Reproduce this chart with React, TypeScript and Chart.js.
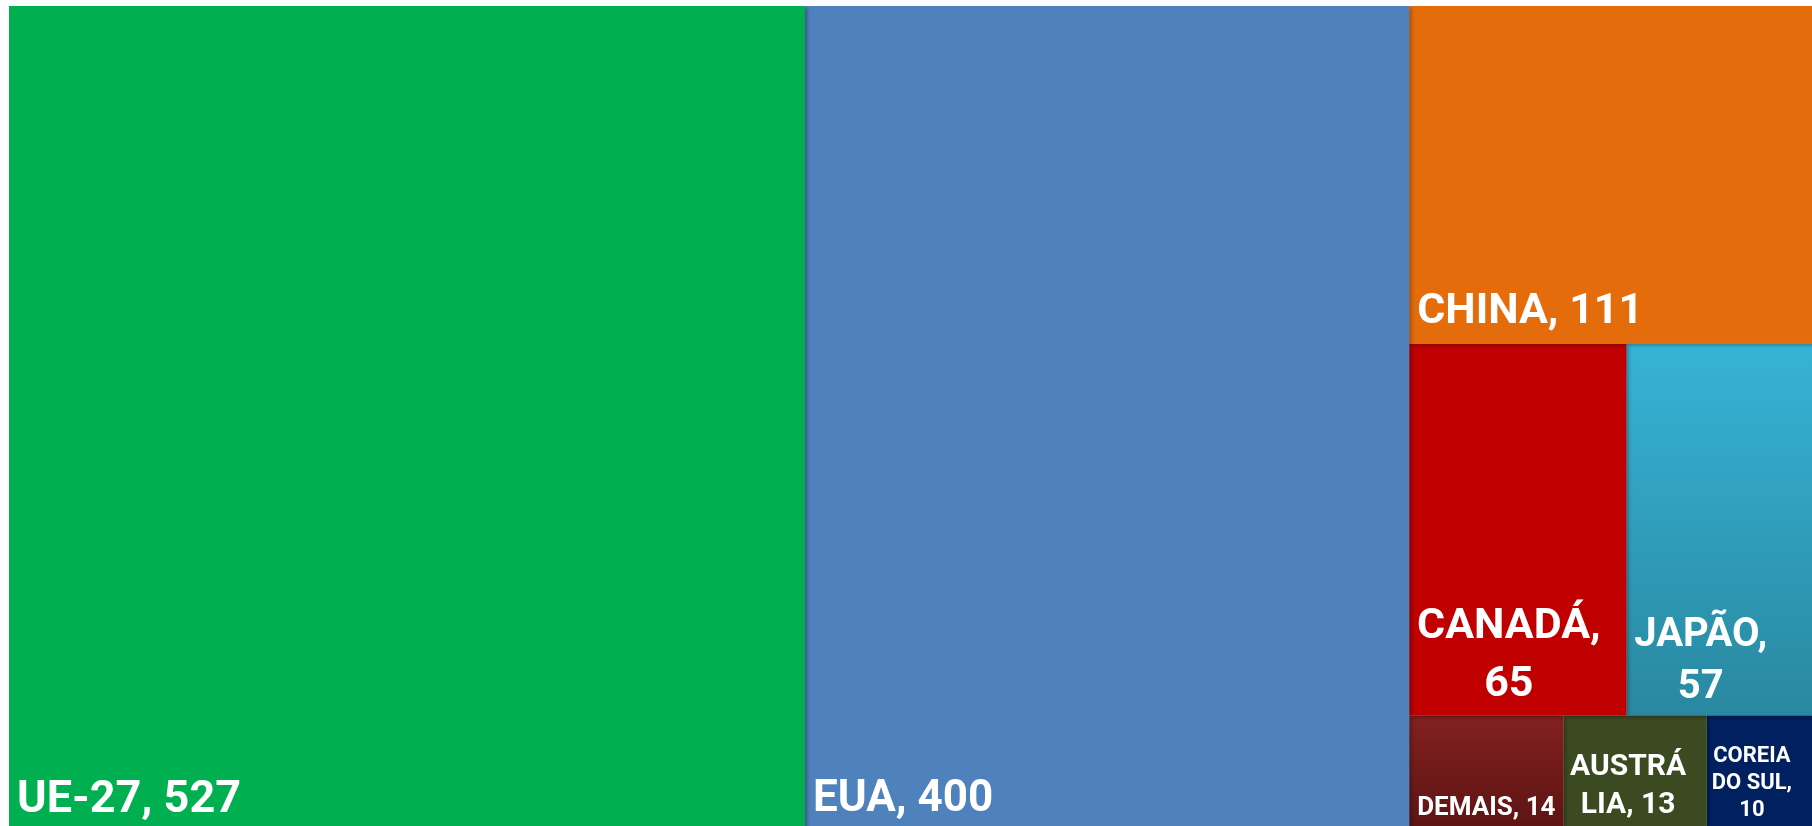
import React, { useEffect, useRef } from "react";
import { Chart, registerables } from "chart.js";

Chart.register(...registerables);

// ---- data ----
const names = ["UE-27", "EUA", "CHINA", "CANADÁ", "JAPÃO", "DEMAIS", "AUSTRÁLIA", "COREIA DO SUL"];
const values = [527, 400, 111, 65, 57, 14, 13, 10];
// label lines as displayed (wrapped text)
const labelLines: string[][] = [
  ["UE-27, 527"],
  ["EUA, 400"],
  ["CHINA, 111"],
  ["CANADÁ,", "65"],
  ["JAPÃO,", "57"],
  ["DEMAIS, 14"],
  ["AUSTRÁ", "LIA, 13"],
  ["COREIA", "DO SUL,", "10"],
];
// treemap grouping: columns -> rows -> items (indices into names/values)
const layoutGroups: number[][][] = [[[0]], [[1]], [[2], [3, 4], [5, 6, 7]]];

// ---- styles ----
const colorsTop = ["#00AF50", "#4F81BD", "#E46C0A", "#C00000", "#36B3D6", "#82201F", "#3B4A20", "#002060"];
const colorsBottom = ["#00AF50", "#4F81BD", "#E46C0A", "#C00000", "#2988A0", "#5E1414", "#3B4A20", "#002060"];
const fontSizes = [45, 44, 43, 43, 40, 26, 30, 22];
const alignments = ["left", "left", "left", "center", "center", "center", "center", "center"];
const centerShift = [0, 0, 0, -9, -21, 0, -7, -10];
const bottomPads = [16, 17, 21, 19, 17, 13, 15, 12];
const lineHeights = [1.3, 1.3, 1.3, 1.35, 1.3, 1.3, 1.27, 1.22];

type Rect = { i: number; x0: number; x1: number; y0: number; y1: number };

function computeLayout(): Rect[] {
  const rects: Rect[] = [];
  let x = 0;
  for (const col of layoutGroups) {
    const colSum = col.flat().reduce((a, i) => a + values[i], 0);
    let y = 1; // top of scale
    for (const row of col) {
      const rowSum = row.reduce((a, i) => a + values[i], 0);
      const h = rowSum / colSum;
      let rx = x;
      for (const i of row) {
        const w = (values[i] / rowSum) * colSum;
        rects.push({ i, x0: rx, x1: rx + w, y0: y - h, y1: y });
        rx += w;
      }
      y -= h;
    }
    x += colSum;
  }
  return rects;
}

const rectsData = computeLayout();
const totalValue = values.reduce((a, b) => a + b, 0);

const treemapPlugin = {
  id: "treemapDraw",
  beforeDatasetsDraw(chart: any) {
    const { ctx, scales } = chart;
    const xs = scales.x;
    const ys = scales.y;
    const pix = rectsData.map((r) => ({
      i: r.i,
      left: xs.getPixelForValue(r.x0),
      right: xs.getPixelForValue(r.x1),
      top: ys.getPixelForValue(r.y1),
      bottom: ys.getPixelForValue(r.y0),
    }));
    // fills, reverse order so shadows fall onto neighbours
    for (let k = pix.length - 1; k >= 0; k--) {
      const p = pix[k];
      ctx.save();
      const g = ctx.createLinearGradient(0, p.top, 0, p.bottom);
      g.addColorStop(0, colorsTop[p.i]);
      g.addColorStop(1, colorsBottom[p.i]);
      ctx.fillStyle = g;
      ctx.shadowColor = "rgba(0,0,0,0.35)";
      ctx.shadowBlur = 4;
      ctx.shadowOffsetX = 1.5;
      ctx.shadowOffsetY = 1.5;
      ctx.fillRect(p.left, p.top, p.right - p.left, p.bottom - p.top);
      ctx.restore();
    }
    // labels
    for (const p of pix) {
      const fs = fontSizes[p.i];
      const lines = labelLines[p.i];
      const lh = fs * lineHeights[p.i];
      ctx.save();
      ctx.fillStyle = "#FFFFFF";
      ctx.font = `bold ${fs}px Roboto, "Noto Sans", sans-serif`;
      ctx.textBaseline = "alphabetic";
      const lastBase = p.bottom - bottomPads[p.i];
      lines.forEach((line, li) => {
        const yb = lastBase - (lines.length - 1 - li) * lh;
        if (alignments[p.i] === "left") {
          ctx.textAlign = "left";
          ctx.fillText(line, p.left + 8, yb);
        } else {
          ctx.textAlign = "center";
          ctx.fillText(line, (p.left + p.right) / 2 + centerShift[p.i], yb);
        }
      });
      ctx.restore();
    }
  },
};

export default function App() {
  const canvasRef = useRef<HTMLCanvasElement | null>(null);
  useEffect(() => {
    if (!canvasRef.current) return;
    const chart = new Chart(canvasRef.current, {
      type: "scatter",
      data: {
        datasets: [
          {
            label: "Valores",
            data: rectsData.map((r) => ({ x: (r.x0 + r.x1) / 2, y: (r.y0 + r.y1) / 2 })),
            pointRadius: 0,
            pointHoverRadius: 0,
          },
        ],
      },
      options: {
        animation: false,
        responsive: true,
        maintainAspectRatio: false,
        layout: { padding: 0 },
        plugins: { legend: { display: false }, tooltip: { enabled: false } },
        scales: {
          x: { type: "linear", min: 0, max: totalValue, display: false },
          y: { type: "linear", min: 0, max: 1, display: false },
        },
      },
      plugins: [treemapPlugin],
    });
    return () => chart.destroy();
  }, []);
  return (
    <div style={{ position: "fixed", left: 0, top: 0, width: "100vw", height: "100vh", overflow: "hidden", background: "#fff" }}>
      <div style={{ position: "absolute", left: 9, top: 6, width: 1808, height: 822 }}>
        <canvas ref={canvasRef} />
      </div>
    </div>
  );
}
